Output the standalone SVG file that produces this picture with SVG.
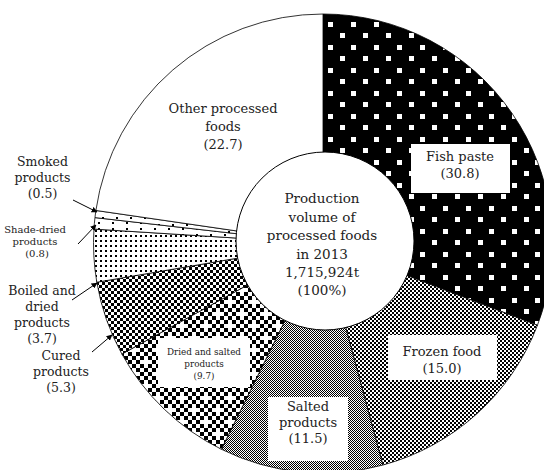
<svg xmlns="http://www.w3.org/2000/svg" width="544" height="470" viewBox="0 0 544 470">
<style>
.sl{stroke:#000;stroke-width:0.8;stroke-linejoin:round}
.t{font-family:"DejaVu Serif","Liberation Serif",serif;font-size:13px;fill:#222;text-anchor:middle}
.c{font-size:13.5px}
.sd{font-size:12.5px}
.s{font-size:8.8px}
.s2{font-size:10px}
.box{fill:#fff;stroke:none}
.ld{stroke:#000;stroke-width:1;fill:none;marker-end:url(#arr)}
</style>
<defs>
<marker id="arr" viewBox="0 0 10 10" refX="9" refY="5" markerWidth="6" markerHeight="6" orient="auto"><path d="M0,0 L10,5 L0,10 z" fill="#000"/></marker>
<pattern id="pFish" patternUnits="userSpaceOnUse" x="328" y="22" width="23" height="23" shape-rendering="crispEdges">
<rect width="23" height="23" fill="#000"/><rect width="5" height="5" fill="#fff"/><rect x="12" y="11" width="5" height="5" fill="#fff"/>
</pattern>
<pattern id="pFrozen" patternUnits="userSpaceOnUse" width="4" height="4" shape-rendering="crispEdges">
<rect width="4" height="4" fill="#fff"/><rect width="2" height="2" fill="#000"/><rect x="2" y="2" width="2" height="2" fill="#000"/>
</pattern>
<pattern id="pSalted" patternUnits="userSpaceOnUse" width="2" height="2" shape-rendering="crispEdges">
<rect width="2" height="2" fill="#fff"/><rect width="1" height="1" fill="#000"/><rect x="1" y="1" width="1" height="1" fill="#000"/>
</pattern>
<pattern id="pDried" patternUnits="userSpaceOnUse" width="24" height="24" shape-rendering="crispEdges">
<rect width="24" height="24" fill="#fff"/>
<path fill="#000" d="M8,0h4v4h-4zM16,0h4v4h-4zM4,4h4v4h-4zM12,4h4v4h-4zM20,4h4v4h-4zM0,8h4v4h-4zM8,8h4v4h-4zM16,8h4v4h-4zM4,12h4v4h-4zM20,12h4v4h-4zM0,16h4v4h-4zM8,16h4v4h-4zM16,16h4v4h-4zM4,20h4v4h-4zM12,20h4v4h-4zM20,20h4v4h-4z"/>
</pattern>
<pattern id="pCured" patternUnits="userSpaceOnUse" width="6" height="6" shape-rendering="crispEdges">
<rect width="6" height="6" fill="#fff"/><rect width="3" height="3" fill="#000"/><rect x="3" y="3" width="3" height="3" fill="#000"/>
</pattern>
<pattern id="pBoiled" patternUnits="userSpaceOnUse" width="5" height="5" shape-rendering="crispEdges">
<rect width="5" height="5" fill="#fff"/><rect width="2" height="2" fill="#000"/>
</pattern>
<pattern id="pShade" patternUnits="userSpaceOnUse" width="14" height="6" shape-rendering="crispEdges">
<rect width="14" height="6" fill="#fff"/><rect width="2" height="2" fill="#000"/>
</pattern>
<pattern id="pSmoked" patternUnits="userSpaceOnUse" x="4" width="14" height="7" shape-rendering="crispEdges">
<rect width="14" height="7" fill="#fff"/><rect width="2" height="2" fill="#000"/>
</pattern>
</defs>
<rect width="544" height="470" fill="#fff"/>
<g id="fish-paste">
<path class="sl" fill="url(#pFish)" d="M323,243.5 L323,14 A229.5,229.5 0 0 1 537.43,325.29 Z"/>
</g>
<g id="frozen-food">
<path class="sl" fill="url(#pFrozen)" d="M323,243.5 L537.43,325.29 A229.5,229.5 0 0 1 382.86,465.05 Z"/>
</g>
<g id="salted-products">
<path class="sl" fill="url(#pSalted)" d="M323,243.5 L382.86,465.05 A229.5,229.5 0 0 1 221.38,449.28 Z"/>
</g>
<g id="dried-salted-products">
<path class="sl" fill="url(#pDried)" d="M323,243.5 L221.38,449.28 A229.5,229.5 0 0 1 121.89,354.06 Z"/>
</g>
<g id="cured-products">
<path class="sl" fill="url(#pCured)" d="M323,243.5 L121.89,354.06 A229.5,229.5 0 0 1 96.80,282.24 Z"/>
</g>
<g id="boiled-dried-products">
<path class="sl" fill="url(#pBoiled)" d="M323,243.5 L96.80,282.24 A229.5,229.5 0 0 1 93.95,229.09 Z"/>
</g>
<g id="shade-dried-products">
<path class="sl" fill="url(#pShade)" d="M323,243.5 L93.95,229.09 A229.5,229.5 0 0 1 94.97,217.60 Z"/>
</g>
<g id="smoked-products">
<path class="sl" fill="url(#pSmoked)" d="M323,243.5 L94.97,217.60 A229.5,229.5 0 0 1 95.89,210.45 Z"/>
</g>
<g id="other-processed-foods">
<path class="sl" fill="#fff" d="M323,243.5 L95.89,210.45 A229.5,229.5 0 0 1 323,14 Z"/>
<text class="t" x="223" y="113">Other processed</text>
<text class="t" x="223" y="131">foods</text>
<text class="t" x="223" y="149">(22.7)</text>
</g>
<g id="center">
<circle cx="325" cy="241" r="89" fill="#fff" stroke="#000" stroke-width="1"/>
<text class="t c" x="322" y="203">Production</text>
<text class="t c" x="322" y="221.5">volume of</text>
<text class="t c" x="322" y="240">processed foods</text>
<text class="t c" x="322" y="258.5">in 2013</text>
<text class="t c" x="322" y="277">1,715,924t</text>
<text class="t c" x="322" y="295">(100%)</text>
</g>
<g id="fish-paste-label">
<rect class="box" x="411" y="144" width="99" height="49"/>
<text class="t" x="460" y="161">Fish paste</text>
<text class="t" x="460" y="178">(30.8)</text>
</g>
<g id="frozen-food-label">
<rect class="box" x="388" y="335" width="109" height="45"/>
<text class="t" x="442" y="356">Frozen food</text>
<text class="t" x="442" y="373">(15.0)</text>
</g>
<g id="salted-label">
<rect class="box" x="268" y="397" width="80" height="64"/>
<text class="t" x="308" y="411">Salted</text>
<text class="t" x="308" y="427">products</text>
<text class="t" x="308" y="443">(11.5)</text>
</g>
<g id="dried-salted-label">
<rect class="box" x="158" y="338" width="92" height="49"/>
<text class="t s" x="204" y="355">Dried and salted</text>
<text class="t s" x="204" y="367">products</text>
<text class="t s" x="204" y="379">(9.7)</text>
</g>
<g id="smoked-label">
<text class="t sd" x="42.5" y="166">Smoked</text>
<text class="t sd" x="42.5" y="182">products</text>
<text class="t sd" x="42.5" y="198">(0.5)</text>
</g>
<g id="shade-dried-label">
<text class="t s2" x="35" y="233">Shade-dried</text>
<text class="t s2" x="35" y="245">products</text>
<text class="t s2" x="37" y="257">(0.8)</text>
</g>
<g id="boiled-label">
<text class="t sd" x="42" y="295">Boiled and</text>
<text class="t sd" x="42" y="311">dried</text>
<text class="t sd" x="42" y="327">products</text>
<text class="t sd" x="42" y="343">(3.7)</text>
</g>
<g id="cured-label">
<text class="t sd" x="61" y="360">Cured</text>
<text class="t sd" x="61" y="376">products</text>
<text class="t sd" x="61" y="392">(5.3)</text>
</g>
<g id="connectors">
<line class="ld" x1="73" y1="200" x2="97" y2="212"/>
<line class="ld" x1="78" y1="244" x2="96" y2="225"/>
<line class="ld" x1="72" y1="300" x2="97" y2="283"/>
<line class="ld" x1="92" y1="352" x2="112" y2="335"/>
</g>
</svg>
